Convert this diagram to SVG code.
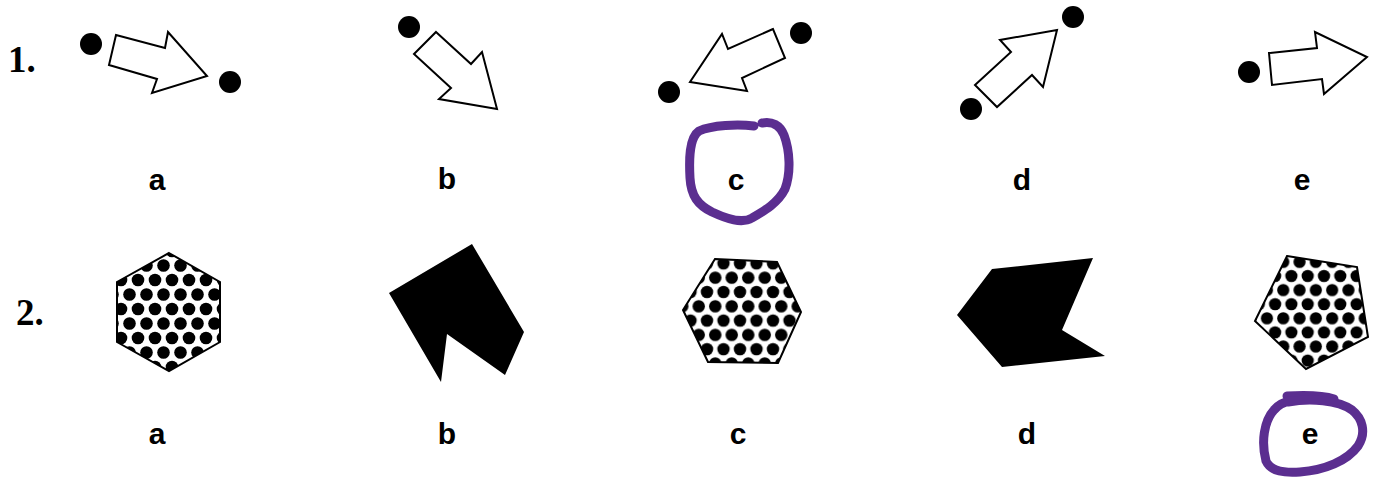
<svg xmlns="http://www.w3.org/2000/svg" width="1378" height="477" viewBox="0 0 1378 477">
<style>
.num{font-family:"Liberation Serif","Times New Roman",serif;font-weight:bold;font-size:37px;fill:#000}
.lbl{font-family:"Liberation Sans",Arial,sans-serif;font-weight:bold;font-size:30px;fill:#000;text-anchor:middle}
.arrow{fill:#fff;stroke:#000;stroke-width:2;stroke-linejoin:miter}
.dot{fill:#000}
.solid{fill:#000}
.outline{fill:none;stroke:#000;stroke-width:2}
.mark{fill:none;stroke:#5b2e90;stroke-width:9;stroke-linecap:round;stroke-linejoin:round}
</style>
<defs>
<pattern id="pa" patternUnits="userSpaceOnUse" x="155" y="280" width="17" height="29">
<circle cx="0" cy="0" r="6.3"/><circle cx="17" cy="0" r="6.3"/><circle cx="0" cy="29" r="6.3"/><circle cx="17" cy="29" r="6.3"/><circle cx="8.5" cy="14.5" r="6.3"/>
</pattern>
<pattern id="pc" patternUnits="userSpaceOnUse" x="740" y="292" width="16.5" height="28.6">
<circle cx="0" cy="0" r="6.2"/><circle cx="16.5" cy="0" r="6.2"/><circle cx="0" cy="28.6" r="6.2"/><circle cx="16.5" cy="28.6" r="6.2"/><circle cx="8.25" cy="14.3" r="6.2"/>
</pattern>
<pattern id="pe" patternUnits="userSpaceOnUse" x="1324" y="276" width="16.3" height="28.2">
<circle cx="0" cy="0" r="6.1"/><circle cx="16.3" cy="0" r="6.1"/><circle cx="0" cy="28.2" r="6.1"/><circle cx="16.3" cy="28.2" r="6.1"/><circle cx="8.15" cy="14.1" r="6.1"/>
</pattern>
</defs>
<rect width="1378" height="477" fill="#fff"/>

<text class="num" x="8" y="72">1.</text>
<text class="num" x="16" y="325">2.</text>

<g id="q1a">
<circle class="dot" cx="91" cy="44" r="11"/>
<circle class="dot" cx="230" cy="82" r="11"/>
<polygon class="arrow" points="116,35 165,48 168,32 207,76 152,93 157,79 109,65"/>
<text class="lbl" x="157" y="190">a</text>
</g>
<g id="q1b">
<circle class="dot" cx="409" cy="27" r="11"/>
<polygon class="arrow" points="436,32 471,64 482,52 497,109 439,99 451,88 414,54"/>
<text class="lbl" x="447" y="189">b</text>
</g>
<g id="q1c">
<circle class="dot" cx="801" cy="33" r="11"/>
<circle class="dot" cx="669" cy="92" r="11"/>
<polygon class="arrow" points="773,29 728,49 722,34 690,82 747,91 742,78 785,58"/>
<text class="lbl" x="736" y="190">c</text>
<path class="mark" d="M 754 126 C 738 124 712 125 699 131 C 689 138 689 160 690 178 C 691 196 698 205 712 212 C 727 219 742 224 752 218 C 764 211 778 203 785 189 C 791 173 790 151 784 135 C 780 125 772 121 762 123"/>
</g>
<g id="q1d">
<circle class="dot" cx="1073" cy="17" r="11"/>
<circle class="dot" cx="971" cy="109" r="11"/>
<polygon class="arrow" points="975,85 1011,52 1000,40 1057,30 1043,87 1032,75 997,107"/>
<text class="lbl" x="1022" y="190">d</text>
</g>
<g id="q1e">
<circle class="dot" cx="1249" cy="72" r="11"/>
<polygon class="arrow" points="1269,53 1317,48 1315,32 1367,57 1324,94 1322,79 1272,85"/>
<text class="lbl" x="1302" y="190">e</text>
</g>

<g id="q2a">
<polygon fill="url(#pa)" points="169,253 220,282 220,342 169,371 117,342 117,282"/>
<polygon class="outline" points="169,253 220,282 220,342 169,371 117,342 117,282"/>
<text class="lbl" x="157" y="444">a</text>
</g>
<g id="q2b">
<polygon class="solid" points="389,293 472,244 524,332 505,375 447,334 441,382"/>
<text class="lbl" x="447" y="444">b</text>
</g>
<g id="q2c">
<polygon fill="url(#pc)" points="715,259 777,262 801,312 778,363 708,362 683,310"/>
<polygon class="outline" points="715,259 777,262 801,312 778,363 708,362 683,310"/>
<text class="lbl" x="738" y="444">c</text>
</g>
<g id="q2d">
<polygon class="solid" points="957,315 992,269 1093,258 1062,330 1105,356 1002,367"/>
<text class="lbl" x="1027" y="444">d</text>
</g>
<g id="q2e">
<polygon fill="url(#pe)" points="1287,256 1357,267 1368,337 1306,369 1255,321"/>
<polygon class="outline" points="1287,256 1357,267 1368,337 1306,369 1255,321"/>
<text class="lbl" x="1310" y="444">e</text>
<path class="mark" d="M 1287 396 C 1305 395 1325 396 1334 399"/>
<path class="mark" d="M 1288 402 C 1310 398 1338 400 1352 410 C 1362 418 1367 432 1358 446 C 1347 461 1325 470 1300 472 C 1285 473 1271 472 1266 461 C 1261 442 1264 421 1274 410 C 1279 404 1284 402 1290 401"/>
</g>
</svg>
